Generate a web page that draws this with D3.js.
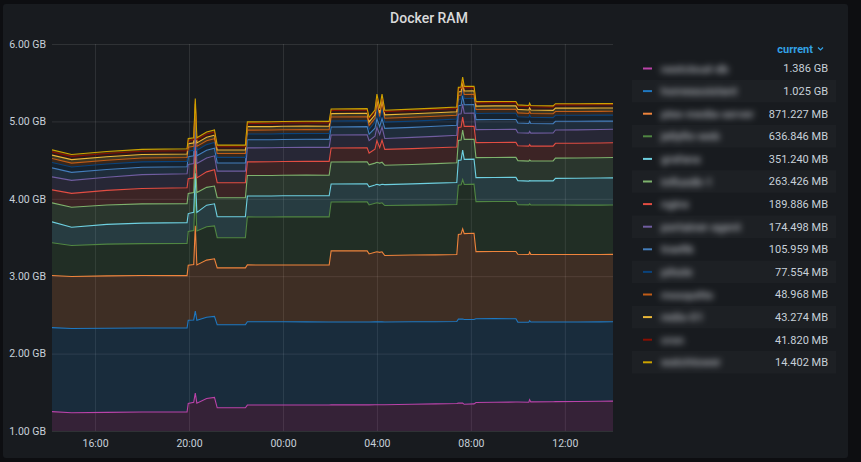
<!DOCTYPE html>
<html>
<head>
<meta charset="utf-8">
<script src="https://cdn.jsdelivr.net/npm/d3@7/dist/d3.min.js"></script>
<style>
body { margin: 0; background: #0d0e11; }
svg { display: block; font-family: Roboto, "Noto Sans", sans-serif; }
</style>
</head>
<body>
<svg id="chart" width="861" height="462"></svg>
<script>
// sample times (14:10 -> 14:03 next day)
var times = ["14:10","15:00","16:30","18:00","19:55",
  "19:58","20:12","20:16","20:20","20:45","21:05",
  "21:12","22:24",
  "22:29","23:30","00:00","01:00","01:58",
  "02:03","03:35","03:40","03:55","04:00","04:07","04:13","04:20","05:30","06:30","07:24",
  "07:28","07:35","07:39","07:43","08:08",
  "08:13","09:00","09:55","10:00","10:28","10:30","10:33","11:30","11:36","12:30","13:30","14:03"];

var containerNames = ["nextcloud-db","homeassistant","plex-media-server","jellyfin-web","grafana","influxdb-1","nginx",
  "portainer-agent","traefik","pihole","mosquitto","redis-01","cron","watchtower"];

var seriesColors = ["#BA43A9","#1F78C1","#EF843C","#508642","#6ED0E0","#7EB26D","#E24D42",
  "#705DA0","#447EBC","#0A437C","#C15C17","#EAB839","#890F02","#CCA300"];

// memory in MB, one array per container
var memNextcloud = [1250,1235,1240,1245,1245, 1355,1370,1490,1360,1420,1435, 1300,1300, 1335,1335,1336,1336,1336,
  1337,1338,1338,1340,1340,1340,1340,1340,1345,1350,1355, 1360,1360,1362,1345,1350,
  1368,1372,1374,1375,1372,1405,1376,1378,1380,1382,1384,1386];
var memHomeassistant = [1085,1090,1088,1086,1086, 1075,1065,1060,1070,1050,1045, 1072,1072, 1076,1076,1075,1074,1073,
  1072,1071,1070,1070,1070,1070,1070,1068,1066,1062,1060, 1085,1085,1085,1095,1090,
  1082,1080,1076,1030,1033,1020,1032,1030,1029,1027,1026,1025];
var memPlex = [675,672,676,678,676, 712,715,1100,715,738,745, 735,735, 735,733,734,735,735,
  918,918,880,900,905,898,905,860,862,864,865, 1095,1100,1165,1110,1115,
  868,868,870,878,876,885,874,873,872,872,871,871.227];
var memJellyfin = [422,400,410,412,415, 435,440,440,440,430,425, 390,390, 620,621,622,622,622,
  632,633,633,633,633,633,633,645,645,646,646, 635,635,635,635,635,
  646,646,645,640,640,625,640,638,638,637,637,636.846];
var memGrafana = [270,235,255,265,270, 232,235,240,240,280,285, 272,272, 271,272,272,273,273,
  232,234,234,234,240,236,240,270,275,280,285, 322,322,382,325,322,
  310,310,312,312,308,300,310,312,345,348,350,351.24];
var memInflux = [246,258,250,248,246, 260,255,255,255,230,230, 245,245, 265,265,265,266,266,
  284,284,284,284,284,284,284,250,250,252,254, 258,258,258,258,258,
  258,258,258,258,258,265,256,258,262,262,263,263.426];
var memNginx = [168,180,190,200,205, 190,190,190,190,200,210, 194,194, 175,176,178,178,178,
  181,182,152,180,280,200,285,205,205,205,205, 168,168,168,168,168,
  194,194,194,193,193,200,192,191,191,190,190,189.886];
var memPortainer = [168,168,170,178,181, 185,185,185,185,180,180, 150,150, 181,181,181,181,181,
  168,168,160,168,170,168,170,142,145,148,150, 170,170,170,170,170,
  168,168,168,168,168,170,168,170,172,173,174,174.498];
var memTraefik = [116,103,100,95,90, 100,100,100,100,100,100, 105,105, 104,104,104,104,104,
  104,104,84,104,112,104,110,130,130,130,130, 110,110,110,110,110,
  129,129,128,126,125,130,125,120,112,110,108,105.959];
var memPihole = [70,70,70,70,70, 72,72,72,72,72,72, 72,72, 75,75,75,75,75,
  78,78,63,78,125,80,120,80,80,80,80, 80,80,80,80,80,
  80,80,80,80,80,82,80,79,78,78,78,77.554];
var memMosquitto = [50,50,50,50,50, 50,50,50,50,50,50, 50,50, 50,50,50,50,50,
  50,50,50,50,90,50,90,50,50,50,50, 52,52,52,52,52,
  50,50,50,50,50,50,50,50,49,49,49,48.968];
var memRedis = [45,45,45,45,45, 45,45,45,45,45,45, 45,45, 45,45,45,45,45,
  45,45,45,45,45,45,45,45,45,45,45, 45,45,45,45,45,
  45,45,45,45,45,45,45,44,44,44,43.5,43.274];
var memCron = [42,42,42,42,42, 42,42,42,42,42,42, 42,42, 42,42,42,42,42,
  42,42,42,42,42,42,42,42,42,42,42, 42,42,42,42,42,
  42,42,42,42,42,42,42,42,42,42,42,41.82];
var memWatchtower = [25,25,25,25,25, 25,25,25,25,25,25, 22,22, 20,20,20,20,20,
  18,18,18,18,18,18,18,18,18,18,18, 18,18,18,18,18,
  16,16,16,16,16,16,16,15,15,15,14.5,14.402];

var seriesValues = [memNextcloud, memHomeassistant, memPlex, memJellyfin, memGrafana, memInflux, memNginx,
  memPortainer, memTraefik, memPihole, memMosquitto, memRedis, memCron, memWatchtower];

var yTicks = [1, 2, 3, 4, 5, 6];

var svg = d3.select("#chart"),
    plot = { left: 52, right: 613, top: 44, bottom: 431 };

var parseTime = d3.timeParse("%Y-%m-%d %H:%M");
function toDate(s) {
    return parseTime((s >= "14:10" ? "2021-03-01 " : "2021-03-02 ") + s);
}

var rows = times.map(function (t, i) {
    var r = { date: toDate(t) };
    containerNames.forEach(function (n, k) { r[n] = seriesValues[k][i] / 1000; });
    return r;
});
var stacked = d3.stack().keys(containerNames)(rows);

var x = d3.scaleTime()
    .domain([toDate(times[0]), toDate(times[times.length - 1])])
    .range([plot.left, plot.right]);
var y = d3.scaleLinear().domain([1, 6]).range([plot.bottom, plot.top]);

// panel
svg.append("rect")
    .attr("x", 3).attr("y", 4).attr("width", 845).attr("height", 454)
    .attr("rx", 3).attr("fill", "#181b1f");

svg.append("text")
    .attr("x", 429).attr("y", 22.5)
    .attr("text-anchor", "middle")
    .attr("fill", "#d8d9da")
    .attr("font-size", 14)
    .attr("font-weight", 500)
    .text("Docker RAM");

// axes + grid
var yAxis = svg.append("g")
    .attr("transform", "translate(" + plot.left + ",0)")
    .call(d3.axisLeft(y).tickValues(yTicks).tickSize(-(plot.right - plot.left)).tickPadding(6)
        .tickFormat(function (d) { return d.toFixed(2) + " GB"; }));
var xAxis = svg.append("g")
    .attr("transform", "translate(0," + plot.bottom + ")")
    .call(d3.axisBottom(x).ticks(d3.timeHour.every(4)).tickSize(-(plot.bottom - plot.top)).tickPadding(9)
        .tickFormat(d3.timeFormat("%H:%M")));
[xAxis, yAxis].forEach(function (g) {
    g.select(".domain").remove();
    g.selectAll("line").attr("stroke", "#ffffff").attr("stroke-opacity", 0.1);
    g.selectAll("text").attr("fill", "#c7d0d9").attr("font-size", 10.5).attr("font-family", "Roboto, sans-serif");
});

svg.append("defs").append("clipPath")
    .attr("id", "clip")
    .append("rect")
    .attr("x", plot.left).attr("y", plot.top)
    .attr("width", plot.right - plot.left).attr("height", plot.bottom - plot.top);

var area = d3.area()
    .x(function (d) { return x(d.data.date); })
    .y0(function (d) { return y(d[0]); })
    .y1(function (d) { return y(d[1]); });
var line = d3.line()
    .x(function (d) { return x(d.data.date); })
    .y(function (d) { return y(d[1]); });

var g = svg.append("g").attr("clip-path", "url(#clip)");
g.selectAll(".area").data(stacked).enter().append("path")
    .attr("class", "area")
    .attr("fill", function (d, i) { return seriesColors[i]; })
    .attr("fill-opacity", 0.18)
    .attr("d", area);
g.selectAll(".line").data(stacked).enter().append("path")
    .attr("class", "line")
    .attr("fill", "none")
    .attr("stroke", function (d, i) { return seriesColors[i]; })
    .attr("stroke-width", 1.1)
    .attr("d", line);

// legend
var blur = svg.select("defs").append("filter").attr("id", "blur")
    .attr("x", "-30%").attr("y", "-100%").attr("width", "160%").attr("height", "300%");
blur.append("feGaussianBlur").attr("stdDeviation", 3.4);

svg.append("text")
    .attr("x", 813).attr("y", 49).attr("dy", "0.35em")
    .attr("text-anchor", "end")
    .attr("fill", "#33a2e5")
    .attr("font-size", 11)
    .attr("font-weight", 700)
    .text("current");
svg.append("path")
    .attr("d", "M818,47.5L820.5,50L823,47.5")
    .attr("fill", "none").attr("stroke", "#33a2e5").attr("stroke-width", 1.2);

function fmt(v) {
    return v >= 1000 ? (v / 1000).toFixed(3) + " GB" : v.toFixed(3) + " MB";
}

var rowH = 22.6, legendTop = 68.5;
var legend = svg.append("g").selectAll("g").data(containerNames).enter().append("g")
    .attr("transform", function (d, i) { return "translate(0," + (legendTop + i * rowH) + ")"; });
legend.filter(function (d, i) { return i % 2 === 1; }).append("rect")
    .attr("x", 632).attr("y", -rowH / 2).attr("width", 204).attr("height", rowH)
    .attr("fill", "#ffffff").attr("fill-opacity", 0.025);
legend.append("line")
    .attr("x1", 643).attr("x2", 652)
    .attr("stroke", function (d, i) { return seriesColors[i]; })
    .attr("stroke-width", 2);
legend.append("text")
    .attr("x", 661).attr("dy", "0.35em")
    .attr("fill", "#b4b7bd")
    .attr("font-size", 11.5)
    .attr("font-weight", 500)
    .attr("filter", "url(#blur)")
    .text(function (d) { return d; });
legend.append("text")
    .attr("x", 828).attr("dy", "0.35em")
    .attr("text-anchor", "end")
    .attr("fill", "#c7d0d9")
    .attr("font-size", 11)
    .text(function (d, i) { var s = seriesValues[i]; return fmt(s[s.length - 1]); });
</script>
</body>
</html>
